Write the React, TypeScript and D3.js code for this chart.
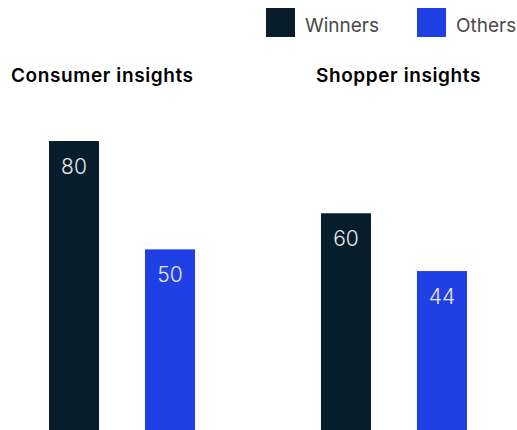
import React from 'react';
import * as d3 from 'd3';

const groups = ['Consumer insights', 'Shopper insights'];
const seriesNames = ['Winners', 'Others'];
const winners = [80, 60];
const others = [50, 44];
const colors = ['#071d2c', '#2040e6'];

const W = 517;
const H = 430;
const FONT = 'Inter, "Liberation Sans", Arial, sans-serif';

const App = () => {
  // outer scale for groups, inner one for the two series
  const x0 = d3.scaleBand().domain(groups).range([49, 467]).paddingInner(0.463).paddingOuter(0);
  const x1 = d3.scaleBand().domain(seriesNames).range([0, x0.bandwidth()]).paddingInner(0.479).paddingOuter(0);
  const y = d3.scaleLinear().domain([0, 80]).range([430, 141]);

  const values = [winners, others];
  const titleX = [11, 316];

  return (
    <svg width={W} height={H} style={{ position: 'absolute', left: 0, top: 0, fontFamily: FONT }}>
      <rect width={W} height={H} fill="#fff" />

      {/* legend */}
      {seriesNames.map((s, i) => {
        const lx = [266, 417][i];
        return (
          <g key={s} transform={`translate(${lx},8)`}>
            <rect width={29} height={29} fill={colors[i]} />
            <text x={39} y={24} fontSize={19} fill="#4a4a4a">{s}</text>
          </g>
        );
      })}

      {groups.map((g, gi) => (
        <g key={g}>
          <text x={titleX[gi]} y={82} fontSize={19} fontWeight={600} letterSpacing={0.6} fill="#000">{g}</text>
          <g transform={`translate(${x0(g)},0)`}>
            {seriesNames.map((s, si) => {
              const v = values[si][gi];
              const bx = x1(s) as number;
              return (
                <g key={s}>
                  <rect x={bx} y={y(v)} width={x1.bandwidth()} height={y(0) - y(v)} fill={colors[si]} />
                  <text x={bx + x1.bandwidth() / 2} y={y(v) + 33} textAnchor="middle" fontSize={21}
                    fontWeight={300} fill="#e8e8e8">{v}</text>
                </g>
              );
            })}
          </g>
        </g>
      ))}
    </svg>
  );
};

export default App;
